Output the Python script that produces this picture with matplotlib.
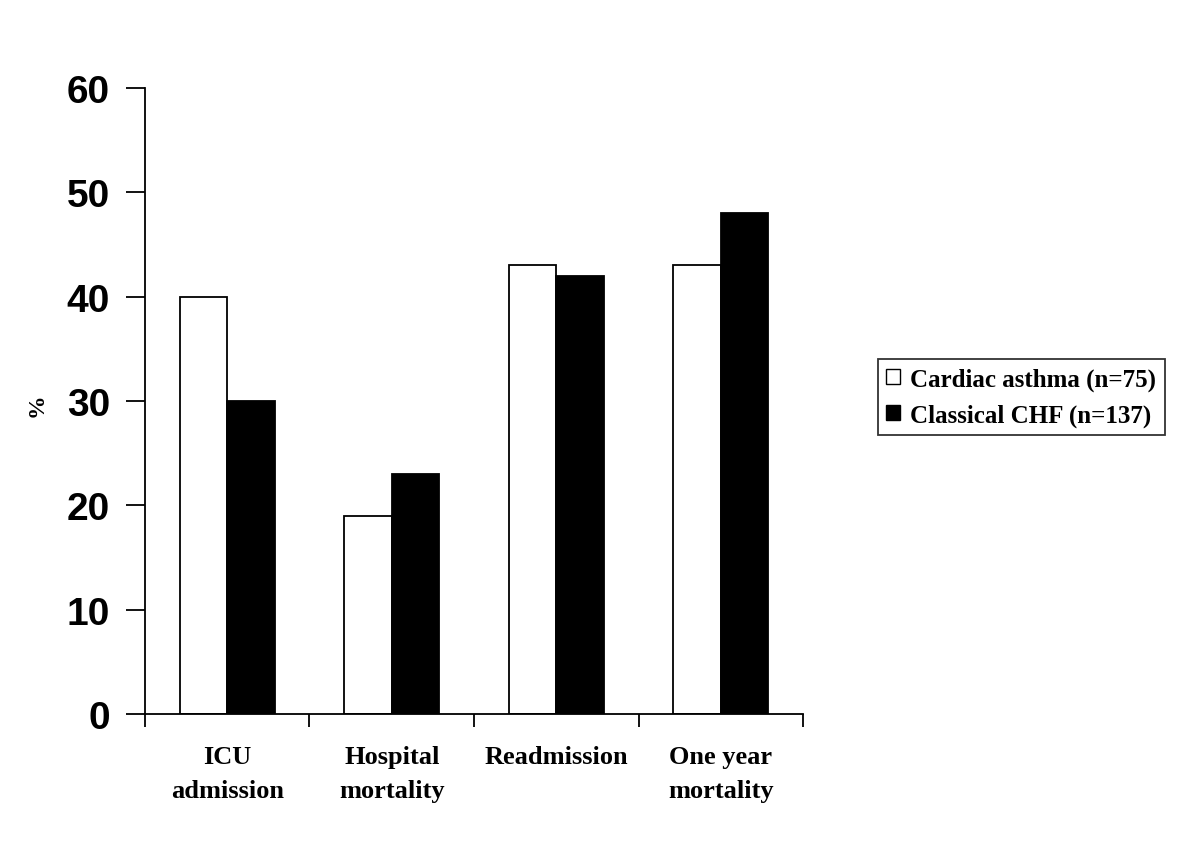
import matplotlib
matplotlib.use("Agg")
import matplotlib.pyplot as plt
import numpy as np
from matplotlib.patches import Patch

categories = ["ICU\nadmission", "Hospital\nmortality", "Readmission", "One year\nmortality"]
series_names = ["Cardiac asthma (n=75)", "Classical CHF (n=137)"]
cardiac_asthma = [40, 19, 43, 43]
classical_chf = [30, 23, 42, 48]
yticks = [0, 10, 20, 30, 40, 50, 60]

fig = plt.figure(figsize=(12, 8.53), dpi=100)
ax = fig.add_axes([0.1208, 0.1618, 0.5484, 0.7339])

x = np.arange(len(categories))
w = 0.29
ax.bar(x - w / 2, cardiac_asthma, w, color="white", edgecolor="black", linewidth=1.3)
ax.bar(x + w / 2, classical_chf, w, color="black", edgecolor="black", linewidth=1.3)

ax.set_xlim(-0.5, len(categories) - 0.5)
ax.set_ylim(0, 60)
ax.set_yticks(yticks)
ax.set_yticklabels([str(t) for t in yticks], fontfamily="Liberation Sans", fontweight="bold", fontsize=28)
ax.tick_params(axis="y", direction="out", length=14, width=1.3, pad=11)

ax.set_xticks(np.arange(-0.5, len(categories), 1.0))
ax.set_xticklabels([])
ax.tick_params(axis="x", direction="out", length=9, width=1.3)
for xi, lab in zip(x, categories):
    ax.text(xi, -0.05, lab, transform=ax.get_xaxis_transform(), ha="center", va="top",
            fontfamily="Liberation Serif", fontweight="bold", fontsize=19, linespacing=1.62)

for s in ["top", "right"]:
    ax.spines[s].set_visible(False)
for s in ["left", "bottom"]:
    ax.spines[s].set_linewidth(1.3)

fig.text(0.031, 0.525, "%", rotation=90, ha="center", va="center",
         fontfamily="Liberation Serif", fontweight="bold", fontsize=17)

handles = [Patch(facecolor="white", edgecolor="black", linewidth=1.0),
           Patch(facecolor="black", edgecolor="black", linewidth=1.0)]
leg = fig.legend(handles, series_names, loc="center", bbox_to_anchor=(0.851, 0.5334),
                 prop={"family": "Liberation Serif", "weight": "bold", "size": 18},
                 frameon=True, fancybox=False, edgecolor="black", handlelength=0.55,
                 handleheight=0.55, handletextpad=0.4, borderpad=0.35, labelspacing=0.5,
                 borderaxespad=0)
leg.get_frame().set_linewidth(1.3)

fig.savefig("out.png", dpi=100, facecolor="white")
